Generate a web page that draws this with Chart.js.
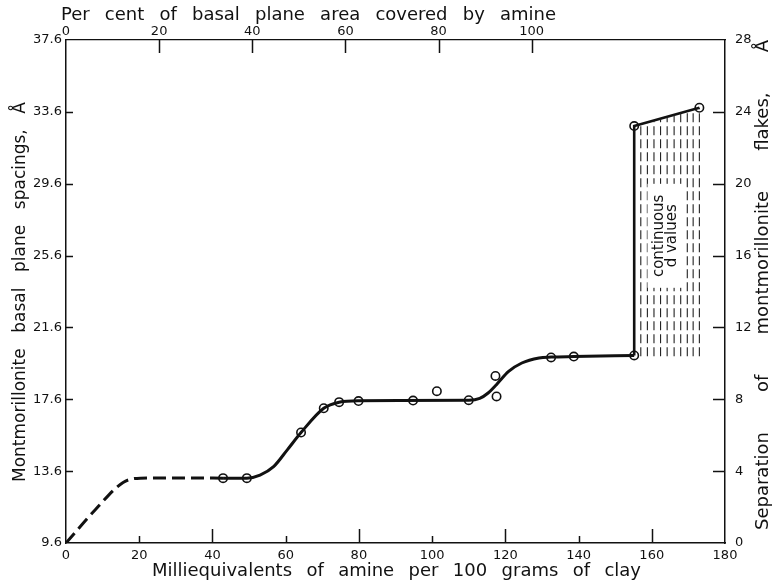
<!DOCTYPE html>
<html>
<head>
<meta charset="utf-8">
<title>Montmorillonite basal plane spacings</title>
<script src="https://cdn.jsdelivr.net/npm/chart.js@4.4.1/dist/chart.umd.min.js"></script>
<style>
  html, body { margin: 0; padding: 0; background: #fff; }
  #wrap { width: 772px; height: 584px; }
</style>
</head>
<body>
<div id="wrap"><canvas id="chart" width="772" height="584"></canvas></div>
<script>
// Values: meq of amine per 100 g clay vs basal spacing (Å)

// dashed start of the curve (no measured points there)
const dashedMeq = [0, 8, 15.6, 20.3, 30, 42.9]
const dashedD = [9.6, 11.45, 12.97, 13.21, 13.22, 13.21]

// solid smoothed curve
const solidMeq = [42.9, 49.4, 53, 56.7, 60.5, 64.2, 70.4, 74.6, 79.9, 110, 113, 115.3, 117.5, 120.9, 124.5, 129.2, 132.5, 138.7, 155.2]
const solidD = [13.21, 13.21, 13.38, 13.85, 14.8, 15.75, 17.1, 17.44, 17.52, 17.55, 17.65, 17.95, 18.4, 19.15, 19.62, 19.9, 19.95, 19.98, 20.04]

// jump to the swollen state and the straight line on top
const jumpMeq = [155.2, 155.2, 173.0]
const jumpD = [20.04, 32.81, 33.83]

// measured points (open circles)
const markerMeq = [42.9, 49.4, 64.2, 70.4, 74.6, 79.9, 94.8, 101.3, 110.0, 117.3, 117.6, 132.5, 138.7, 155.2, 155.2, 173.0]
const markerD = [13.21, 13.21, 15.75, 17.10, 17.44, 17.50, 17.53, 18.05, 17.55, 18.90, 17.76, 19.93, 19.98, 20.04, 32.81, 33.83]

// "continuous d values" hatching
const hatchMeq = [157.0, 158.8, 160.6, 162.4, 164.2, 166.1, 167.9, 169.7, 171.3, 173.0]
const hatchTop = [32.91, 33.02, 33.12, 33.22, 33.33, 33.43, 33.54, 33.64, 33.73, 33.83]
const hatchBottom = 20.0

// axis ticks
const meqTicks = [0, 20, 40, 60, 80, 100, 120, 140, 160, 180]
const percentTicks = [0, 20, 40, 60, 80, 100]
const spacingTicks = [9.6, 13.6, 17.6, 21.6, 25.6, 29.6, 33.6, 37.6]
const separationTicks = [0, 4, 8, 12, 16, 20, 24, 28]
const meqAtFullCover = 127.2 // 100 % of basal plane area

const FONT = "'DejaVu Sans', 'Liberation Sans', sans-serif"
const INK = "#111"

function toPoints(xs, ys) {
  return xs.map((x, i) => ({ x: x, y: ys[i] }))
}

function hatchPoints() {
  const pts = []
  hatchMeq.forEach((x, i) => {
    pts.push({ x: x, y: hatchBottom })
    pts.push({ x: x, y: hatchTop[i] })
    pts.push({ x: x, y: null })
  })
  return pts
}

// draws words spread out along a line of the given length
function drawSpacedText(ctx, text, x, y, length, angle) {
  const words = text.split(" ")
  const widths = words.map((w) => ctx.measureText(w).width)
  const total = widths.reduce((a, b) => a + b, 0)
  const gap = (length - total) / (words.length - 1)
  ctx.save()
  ctx.translate(x, y)
  ctx.rotate(angle)
  ctx.textAlign = "left"
  ctx.textBaseline = "alphabetic"
  let pos = 0
  words.forEach((w, i) => {
    ctx.fillText(w, pos, 0)
    pos += widths[i] + gap
  })
  ctx.restore()
}

function fixTicks(values) {
  return (scale) => {
    scale.ticks = values.map((v) => ({ value: v }))
  }
}

function fixSize(prop, size) {
  return (scale) => {
    scale[prop] = size
  }
}

const paperPlugin = {
  id: "paper",
  beforeDraw(chart) {
    const ctx = chart.ctx
    ctx.save()
    ctx.fillStyle = "#fff"
    ctx.fillRect(0, 0, chart.width, chart.height)
    ctx.restore()
  },
  afterDraw(chart) {
    const ctx = chart.ctx
    const { x, x2, y, y2 } = chart.scales
    const area = chart.chartArea
    ctx.save()
    ctx.strokeStyle = INK
    ctx.lineWidth = 1.5

    // inward tick marks
    ctx.beginPath()
    spacingTicks.slice(1, -1).forEach((v) => {
      const py = Math.round(y.getPixelForValue(v)) + 0.5
      ctx.moveTo(area.left, py)
      ctx.lineTo(area.left + 7, py)
    })
    separationTicks.slice(1, -1).forEach((v) => {
      const py = Math.round(y2.getPixelForValue(v)) + 0.5
      ctx.moveTo(area.right, py)
      ctx.lineTo(area.right - 12, py)
    })
    meqTicks.slice(1, -1).forEach((v) => {
      const px = Math.round(x.getPixelForValue(v)) + 0.5
      const len = v % 40 === 0 ? 14 : 7
      ctx.moveTo(px, area.bottom)
      ctx.lineTo(px, area.bottom - len)
    })
    percentTicks.slice(1).forEach((v) => {
      const px = Math.round(x2.getPixelForValue(v)) + 0.5
      ctx.moveTo(px, area.top)
      ctx.lineTo(px, area.top + 13)
    })
    ctx.stroke()

    // label inside the hatching
    const cx1 = x.getPixelForValue(163.2)
    const cy = y.getPixelForValue(26.7)
    ctx.fillStyle = "#fff"
    ctx.fillRect(cx1 - 16, cy - 52, 35, 104)
    ctx.fillStyle = INK
    ctx.font = "15px " + FONT
    ctx.textAlign = "center"
    ctx.textBaseline = "alphabetic"
    ctx.save()
    ctx.translate(cx1, cy)
    ctx.rotate(-Math.PI / 2)
    ctx.fillText("continuous", 0, 0)
    ctx.fillText("d values", 0, 13)
    ctx.restore()

    // axis titles
    ctx.fillStyle = INK
    ctx.font = "18px " + FONT
    drawSpacedText(ctx, "Per cent of basal plane area covered by amine", 61, 20, 495, 0)
    drawSpacedText(ctx, "Milliequivalents of amine per 100 grams of clay", 152, 576, 489, 0)
    ctx.font = "17px " + FONT
    drawSpacedText(ctx, "Montmorillonite basal plane spacings, Å", 25, 482, 380, -Math.PI / 2)
    ctx.font = "18px " + FONT
    drawSpacedText(ctx, "Separation of montmorillonite flakes, Å", 768, 530, 490, -Math.PI / 2)
    ctx.restore()
  },
}

const tickFont = { family: FONT, size: 13 }

const chart = new Chart(document.getElementById("chart"), {
  type: "scatter",
  data: {
    datasets: [
      {
        data: hatchPoints(),
        showLine: true,
        spanGaps: false,
        borderColor: "#222",
        borderWidth: 1.1,
        borderDash: [9, 4],
        pointRadius: 0,
        tension: 0,
      },
      {
        data: toPoints(dashedMeq, dashedD),
        showLine: true,
        borderColor: INK,
        borderWidth: 3,
        borderDash: [13, 6],
        pointRadius: 0,
        cubicInterpolationMode: "monotone",
      },
      {
        data: toPoints(solidMeq, solidD),
        showLine: true,
        borderColor: INK,
        borderWidth: 3,
        pointRadius: 0,
        cubicInterpolationMode: "monotone",
      },
      {
        data: toPoints(jumpMeq, jumpD),
        showLine: true,
        borderColor: INK,
        borderWidth: 2.6,
        pointRadius: 0,
        tension: 0,
      },
      {
        data: toPoints(markerMeq, markerD),
        showLine: false,
        pointRadius: 4.2,
        pointBorderWidth: 1.6,
        pointBackgroundColor: "#fff",
        pointBorderColor: INK,
      },
    ],
  },
  options: {
    responsive: false,
    animation: false,
    devicePixelRatio: 1,
    layout: { padding: 0 },
    plugins: {
      legend: { display: false },
      tooltip: { enabled: false },
    },
    elements: { line: { borderCapStyle: "butt" } },
    scales: {
      x: {
        type: "linear",
        position: "bottom",
        min: 0,
        max: 180,
        afterBuildTicks: fixTicks(meqTicks),
        afterFit: fixSize("height", 41),
        grid: { display: false, drawTicks: false },
        border: { display: true, color: INK, width: 1.5 },
        ticks: { font: tickFont, color: INK, padding: 5, maxRotation: 0 },
      },
      x2: {
        type: "linear",
        position: "top",
        min: 0,
        max: 180 / (meqAtFullCover / 100),
        afterBuildTicks: fixTicks(percentTicks),
        afterFit: fixSize("height", 40),
        grid: { display: false, drawTicks: false },
        border: { display: true, color: INK, width: 1.2 },
        ticks: { font: tickFont, color: INK, padding: 1, maxRotation: 0 },
      },
      y: {
        type: "linear",
        position: "left",
        min: 9.6,
        max: 37.6,
        afterBuildTicks: fixTicks(spacingTicks),
        afterFit: fixSize("width", 66),
        grid: { display: false, drawTicks: false },
        border: { display: true, color: INK, width: 1.5 },
        ticks: {
          font: tickFont,
          color: INK,
          padding: 4,
          callback: (v) => Number(v).toFixed(1),
        },
      },
      y2: {
        type: "linear",
        position: "right",
        min: 0,
        max: 28,
        afterBuildTicks: fixTicks(separationTicks),
        afterFit: fixSize("width", 47),
        grid: { display: false, drawTicks: false },
        border: { display: true, color: INK, width: 1.5 },
        ticks: { font: tickFont, color: INK, padding: 10 },
      },
    },
  },
  plugins: [paperPlugin],
})
</script>
</body>
</html>
